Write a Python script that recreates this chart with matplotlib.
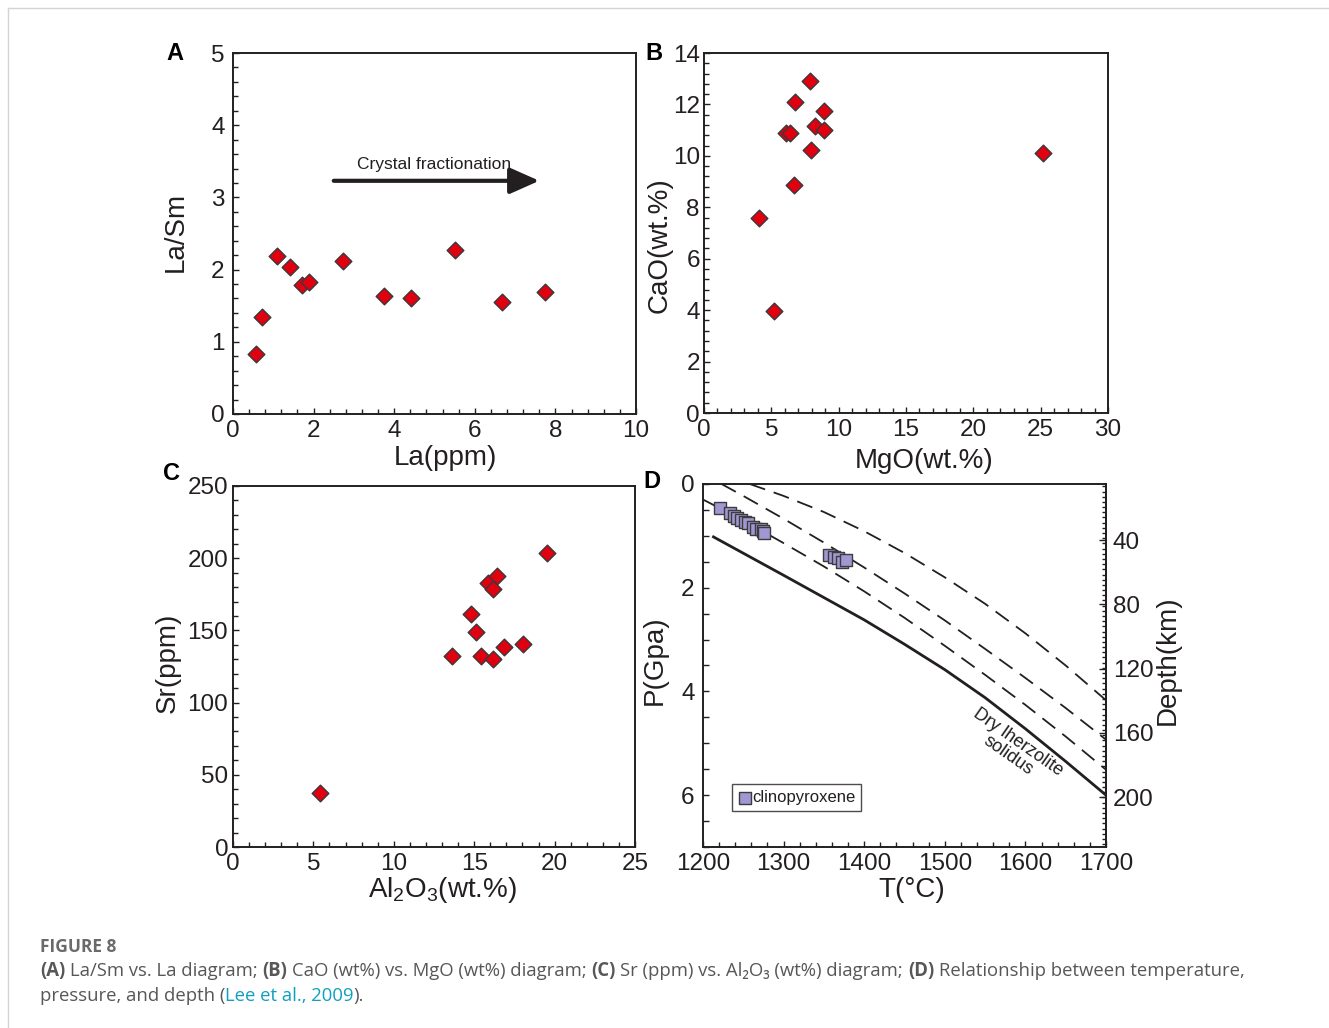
import matplotlib
matplotlib.use('Agg')
import matplotlib.pyplot as plt
from matplotlib.ticker import MultipleLocator, FixedLocator
from matplotlib.lines import Line2D

plt.rcParams['font.family'] = ['Liberation Sans', 'DejaVu Sans']
plt.rcParams['mathtext.fontset'] = 'custom'
plt.rcParams['mathtext.rm'] = 'Liberation Sans'
plt.rcParams['mathtext.it'] = 'Liberation Sans:italic'
plt.rcParams['mathtext.bf'] = 'Liberation Sans:bold'

INK = '#231f20'
RED = '#e00010'
LAV = '#a098d2'

# --- datos ---
# (A) La/Sm vs La
la_ppm = [0.58, 0.73, 1.08, 1.41, 1.70, 1.89, 2.72, 3.75, 4.41, 5.52, 6.68, 7.74]
la_sm = [0.83, 1.34, 2.19, 2.04, 1.79, 1.83, 2.12, 1.64, 1.60, 2.27, 1.55, 1.69]

# (B) CaO vs MgO
mgo = [4.09, 5.18, 6.12, 6.42, 6.67, 6.74, 7.86, 7.91, 8.23, 8.93, 8.93, 25.2]
cao = [7.58, 3.95, 10.89, 10.87, 8.87, 12.09, 12.92, 10.21, 11.15, 11.73, 11.02, 10.10]

# (C) Sr vs Al2O3
al2o3 = [5.39, 13.63, 14.77, 15.10, 15.41, 15.87, 16.39, 16.14, 16.18, 16.85, 18.05, 19.54]
sr = [37.4, 132.4, 161.7, 149.0, 132.4, 182.5, 187.8, 178.6, 130.5, 138.2, 140.5, 203.8]

# (D) T-P
cpx_T = [1221, 1233, 1238, 1242, 1247, 1252, 1256, 1262, 1266, 1272, 1274, 1276,
         1356, 1362, 1367, 1373, 1377]
cpx_P = [0.47, 0.55, 0.62, 0.66, 0.70, 0.73, 0.76, 0.82, 0.86, 0.87, 0.90, 0.94,
         1.37, 1.40, 1.42, 1.50, 1.47]

solidus_T = [1213, 1300, 1400, 1450, 1500, 1550, 1600, 1650, 1700]
solidus_P = [1.02, 1.76, 2.62, 3.09, 3.58, 4.12, 4.72, 5.35, 6.00]

dash1_T = [1200, 1250, 1300, 1350, 1400, 1450, 1500, 1550, 1600, 1650, 1700]
dash1_P = [0.30, 0.70, 1.14, 1.59, 2.07, 2.58, 3.12, 3.68, 4.26, 4.87, 5.51]
dash2_T = [1223, 1250, 1300, 1350, 1400, 1450, 1500, 1550, 1600, 1650, 1700]
dash2_P = [0.00, 0.23, 0.67, 1.13, 1.61, 2.11, 2.63, 3.18, 3.74, 4.32, 4.93]
dash3_T = [1258, 1300, 1350, 1400, 1450, 1500, 1550, 1600, 1650, 1700]
dash3_P = [0.00, 0.23, 0.54, 0.91, 1.33, 1.80, 2.31, 2.88, 3.50, 4.17]

depth_ticks = [40, 80, 120, 160, 200]

W, H = 1329, 1028
fig = plt.figure(figsize=(W / 100, H / 100), dpi=100)

TICK_FS = 17.5
LAB_FS = 20


def box(l, t, r, b):
    # caja en pixeles -> fracciones de figura
    return [l / W, 1 - b / H, (r - l) / W, (b - t) / H]


def estilo(ax, xmaj, xmin, ymaj, ymin, ypad):
    for s in ax.spines.values():
        s.set_color(INK)
        s.set_linewidth(1.4)
    ax.xaxis.set_major_locator(MultipleLocator(xmaj))
    ax.xaxis.set_minor_locator(MultipleLocator(xmin))
    ax.yaxis.set_major_locator(MultipleLocator(ymaj))
    ax.yaxis.set_minor_locator(MultipleLocator(ymin))
    ax.tick_params(which='both', direction='in', color=INK, width=1,
                   labelsize=TICK_FS, labelcolor=INK)
    ax.tick_params(which='major', length=4)
    ax.tick_params(which='minor', length=3.5)
    ax.tick_params(axis='x', pad=4)
    ax.tick_params(axis='y', pad=ypad)


def diamantes(ax, x, y):
    ax.scatter(x, y, marker='D', s=72, c=RED, edgecolors='#3a3a3a',
               linewidths=1, zorder=3, clip_on=False)


def etiquetas(ax, xl, xpos, yl, ypos):
    ax.text(xpos[0], xpos[1], xl, transform=ax.transAxes, ha='center',
            va='center', fontsize=LAB_FS, color=INK)
    ax.text(ypos[0], ypos[1], yl, transform=ax.transAxes, ha='center',
            va='center', fontsize=LAB_FS, color=INK, rotation=90)


# ---- A ----
axA = fig.add_axes(box(233, 53, 636, 414))
diamantes(axA, la_ppm, la_sm)
axA.set_xlim(0, 10)
axA.set_ylim(0, 5)
estilo(axA, 2, 0.4, 1, 0.2, 6)
axA.annotate('', xy=(7.6, 3.23), xytext=(2.5, 3.23),
             arrowprops=dict(arrowstyle='-|>,head_length=0.9,head_width=0.4',
                             lw=3, color=INK, mutation_scale=20,
                             shrinkA=0, shrinkB=0))
axA.text(4.98, 3.45, 'Crystal fractionation', ha='center', va='center',
         fontsize=12.5, color=INK)
etiquetas(axA, 'La(ppm)', (0.526, -0.122), 'La/Sm', (-0.141, 0.504))

# ---- B ----
axB = fig.add_axes(box(704, 53, 1108, 413))
diamantes(axB, mgo, cao)
axB.set_xlim(0, 30)
axB.set_ylim(0, 14)
estilo(axB, 5, 1, 2, 0.4, 3)
etiquetas(axB, 'MgO(wt.%)', (0.545, -0.133), 'CaO(wt.%)', (-0.109, 0.467))

# ---- C ----
axC = fig.add_axes(box(233, 486, 635, 847))
diamantes(axC, al2o3, sr)
axC.set_xlim(0, 25)
axC.set_ylim(0, 250)
estilo(axC, 5, 1, 50, 10, 3.5)
etiquetas(axC, r'Al$_{2}$O$_{3}$(wt.%)', (0.52, -0.119), 'Sr(ppm)', (-0.162, 0.51))

# ---- D ----
axD = fig.add_axes(box(703, 484, 1106, 847))
axD.plot(solidus_T, solidus_P, color=INK, lw=2)
for tt, pp in [(dash1_T, dash1_P), (dash2_T, dash2_P), (dash3_T, dash3_P)]:
    axD.plot(tt, pp, color=INK, lw=1.3, ls=(0, (9, 5)))
axD.scatter(cpx_T, cpx_P, marker='s', s=80, c=LAV, edgecolors='#3c3c3c',
            linewidths=1, zorder=3, label='clinopyroxene')
axD.set_xlim(1200, 1700)
axD.set_ylim(7, 0)
estilo(axD, 100, 20, 2, 0.5, 6)
axD.yaxis.set_major_locator(FixedLocator([0, 2, 4, 6]))
axD.tick_params(axis='y', which='both', length=4)
axD.text(1585, 5.1, 'Dry lherzolite\nsolidus', rotation=-35,
         rotation_mode='anchor', ha='center', va='center', fontsize=13,
         color=INK, linespacing=0.95)
leg = axD.legend(loc='lower left', bbox_to_anchor=(0.072, 0.099),
                 borderaxespad=0, fontsize=12, frameon=True, fancybox=False,
                 handletextpad=0.05, borderpad=0.35, handlelength=0.8,
                 scatterpoints=1)
leg.get_frame().set_edgecolor(INK)
leg.get_frame().set_linewidth(1)
for t in leg.get_texts():
    t.set_color(INK)

sec = axD.secondary_yaxis('right', functions=(lambda p: p * 32.3 + 5,
                                              lambda d: (d - 5) / 32.3))
sec.set_yticks(depth_ticks)
sec.yaxis.set_minor_locator(MultipleLocator(3.23))
sec.tick_params(which='both', direction='in', color=INK, width=1,
                labelsize=TICK_FS, labelcolor=INK, pad=5)
sec.tick_params(which='major', length=5)
sec.tick_params(which='minor', length=3)
sec.spines['right'].set_color(INK)
sec.spines['right'].set_linewidth(1.4)
etiquetas(axD, 'T(°C)', (0.519, -0.119), 'P(Gpa)', (-0.119, 0.515))
axD.text(1.152, 0.515, 'Depth(km)', transform=axD.transAxes, ha='center',
         va='center', fontsize=LAB_FS, color=INK, rotation=90)

# letras de panel
for letra, (px, py) in {'A': (175, 53), 'B': (654, 53),
                        'C': (172, 474), 'D': (652, 481)}.items():
    fig.text(px / W, 1 - py / H, letra, ha='center', va='center',
             fontsize=17, fontweight='bold', color='black')

# marco gris de la pagina
fig.add_artist(Line2D([8 / W, 1], [1 - 8 / H, 1 - 8 / H], color='#d4d4d4', lw=1))
fig.add_artist(Line2D([8 / W, 8 / W], [0, 1 - 8 / H], color='#d4d4d4', lw=1))

# ---- leyenda de la figura ----
GRIS = '#575757'
AZUL = '#0fa0bd'
CAPF = ['Open Sans', 'DejaVu Sans']
renderer = fig.canvas.get_renderer()
cap_size = 13.35


def ancho(s, bold=False):
    t = fig.text(0, 0, s, fontsize=cap_size, family=CAPF,
                 fontweight='bold' if bold else 'normal')
    w = t.get_window_extent(renderer).width
    t.remove()
    return w


esp = ancho('n n') - ancho('nn')


def renglon(ypix, partes):
    x = 40.0
    for s, bold, color in partes:
        lead = len(s) - len(s.lstrip(' '))
        trail = len(s) - len(s.rstrip(' '))
        x += lead * esp
        core = s.strip(' ')
        t = fig.text(x / W, 1 - ypix / H, core, fontsize=cap_size, family=CAPF,
                     fontweight='bold' if bold else 'normal', color=color,
                     va='baseline')
        x += t.get_window_extent(renderer).width + trail * esp


fig.text(40 / W, 1 - 952 / H, 'FIGURE 8', fontsize=12.5, family=CAPF,
         fontweight='bold', color='#6a6a6a', va='baseline')
renglon(976, [('(A)', True, GRIS), (' La/Sm vs. La diagram; ', False, GRIS),
              ('(B)', True, GRIS), (' CaO (wt%) vs. MgO (wt%) diagram; ', False, GRIS),
              ('(C)', True, GRIS), (' Sr (ppm) vs. Al₂O₃ (wt%) diagram; ', False, GRIS),
              ('(D)', True, GRIS), (' Relationship between temperature,', False, GRIS)])
renglon(1001, [('pressure, and depth (', False, GRIS),
               ('Lee et al., 2009', False, AZUL), (').', False, GRIS)])

fig.savefig('out.png', dpi=100, facecolor='white')
